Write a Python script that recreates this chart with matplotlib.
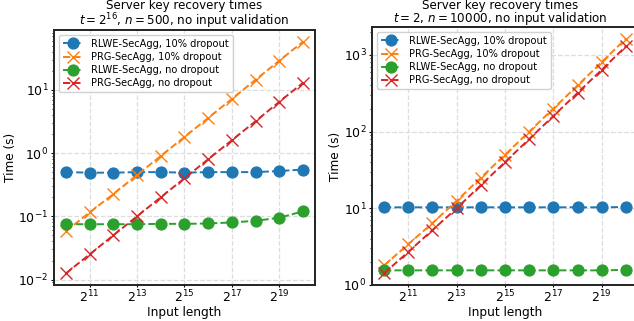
import matplotlib.pyplot as plt

EXPONENTS = list(range(10, 21))
INPUT_LENGTHS = [2 ** e for e in EXPONENTS]

# left panel: t = 2^16, n = 500
LEFT_RLWE_DROP = [0.50, 0.49, 0.49, 0.50, 0.50, 0.49, 0.50, 0.50, 0.50, 0.52, 0.55]
LEFT_PRG_DROP = [0.058, 0.115, 0.225, 0.45, 0.9, 1.8, 3.6, 7.2, 14.5, 29.0, 58.0]
LEFT_RLWE_NODROP = [0.075, 0.075, 0.075, 0.075, 0.076, 0.076, 0.077, 0.080, 0.085, 0.095, 0.12]
LEFT_PRG_NODROP = [0.0125, 0.025, 0.05, 0.1, 0.2, 0.4, 0.8, 1.6, 3.2, 6.5, 13.0]

# right panel: t = 2, n = 10000
RIGHT_RLWE_DROP = [10.3, 10.3, 10.3, 10.3, 10.3, 10.3, 10.3, 10.3, 10.3, 10.3, 10.4]
RIGHT_PRG_DROP = [1.8, 3.4, 6.4, 12.5, 25.0, 50.0, 100.0, 200.0, 400.0, 810.0, 1630.0]
RIGHT_RLWE_NODROP = [1.55, 1.55, 1.55, 1.55, 1.55, 1.55, 1.55, 1.55, 1.55, 1.55, 1.57]
RIGHT_PRG_NODROP = [1.42, 2.7, 5.2, 10.0, 20.0, 40.0, 80.0, 160.0, 320.0, 640.0, 1300.0]

LABELS = [
    "RLWE-SecAgg, 10% dropout",
    "PRG-SecAgg, 10% dropout",
    "RLWE-SecAgg, no dropout",
    "PRG-SecAgg, no dropout",
]
COLORS = ["#1f77b4", "#ff7f0e", "#2ca02c", "#d62728"]
MARKERS = ["o", "x", "o", "x"]
XTICK_EXPONENTS = [11, 13, 15, 17, 19]
TITLE = "Server key recovery times"
LEFT_SUBTITLE = "$t = 2^{16}$, $n = 500$, no input validation"
RIGHT_SUBTITLE = "$t = 2$, $n = 10000$, no input validation"

W, H = 634, 321


def draw_panel(ax, series, subtitle, title_y):
    for values, label, color, marker in zip(series, LABELS, COLORS, MARKERS):
        ax.plot(INPUT_LENGTHS, values, linestyle="--", marker=marker, color=color,
                label=label, markersize=7.8 if marker == "o" else 8.5,
                markeredgewidth=1.0, linewidth=1.4)
    ax.set_xscale("log", base=2)
    ax.set_yscale("log")
    ax.set_xticks([2 ** e for e in XTICK_EXPONENTS])
    ax.set_xticklabels([f"$2^{{{e}}}$" for e in XTICK_EXPONENTS])
    ax.xaxis.set_minor_locator(plt.NullLocator())
    ax.grid(True, which="major", linestyle="--", color="#dddddd", linewidth=0.9)
    ax.set_axisbelow(True)
    for spine in ax.spines.values():
        spine.set_color("#222222")
        spine.set_linewidth(1.4)
    ax.tick_params(labelsize=9, pad=1.5)
    ax.tick_params(axis="x", length=1.5)
    ax.tick_params(axis="y", which="major", length=2.5)
    ax.tick_params(axis="y", which="minor", length=1.5)
    ax.set_xlabel("Input length", fontsize=8.7, labelpad=0)
    ax.set_ylabel("Time (s)", fontsize=8.7, labelpad=1)
    ax.legend(loc="upper left", fontsize=7.1, handlelength=2.0, borderpad=0.4,
              labelspacing=0.32, handletextpad=0.9, framealpha=0.9)

    # two-line title, placed by hand so it fits above the axes
    bbox = ax.get_position()
    cx = (bbox.x0 + bbox.x1) / 2
    if bbox.x1 > 1:
        cx = (bbox.x0 + (634 - 12) / W) / 2 + 0.005
    fig.text(cx, 1 - title_y[0] / H, TITLE, ha="center", va="center", fontsize=8.6)
    fig.text(cx, 1 - title_y[1] / H, subtitle, ha="center", va="center", fontsize=8.6)


fig = plt.figure(figsize=(W / 100, H / 100), dpi=100)
ax_left = fig.add_axes([54 / W, 36 / H, 261 / W, 255 / H])
ax_right = fig.add_axes([372 / W, 36 / H, 266 / W, 258 / H])

draw_panel(ax_left, [LEFT_RLWE_DROP, LEFT_PRG_DROP, LEFT_RLWE_NODROP, LEFT_PRG_NODROP],
           LEFT_SUBTITLE, (6, 21.5))
draw_panel(ax_right, [RIGHT_RLWE_DROP, RIGHT_PRG_DROP, RIGHT_RLWE_NODROP, RIGHT_PRG_NODROP],
           RIGHT_SUBTITLE, (5, 18.5))

fig.savefig("out.png", dpi=100)
